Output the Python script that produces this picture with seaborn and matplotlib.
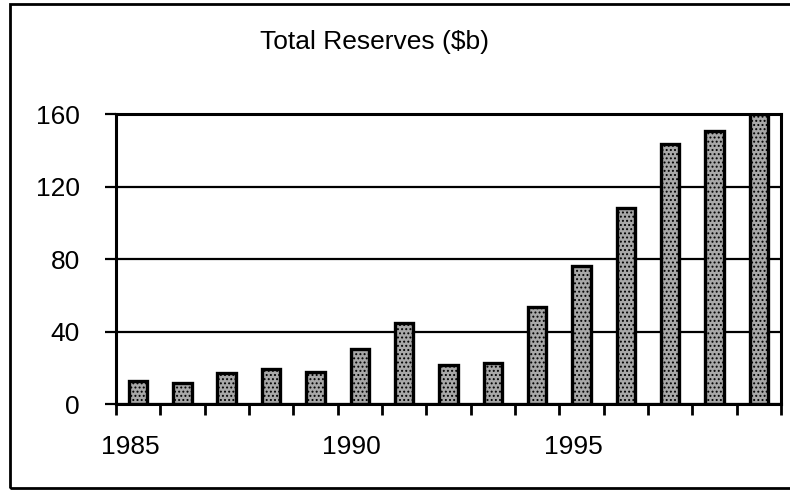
import numpy as np
import pandas as pd
import matplotlib
matplotlib.use("Agg")
import matplotlib.pyplot as plt
import matplotlib.transforms as mtransforms
from matplotlib.patches import Rectangle
import seaborn as sns

# data
years = [1985, 1986, 1987, 1988, 1989, 1990, 1991, 1992, 1993, 1994,
         1995, 1996, 1997, 1998, 1999]
reserves = [13, 12, 17, 19.5, 18, 30.5, 45, 21.5, 22.5, 53.5,
            76.5, 108, 143.5, 150.5, 160]
labelled_years = [1985, 1990, 1995]
y_ticks = [0, 40, 80, 120, 160]

sns.set_theme(style="white")
plt.rcParams['font.family'] = ['Liberation Sans', 'DejaVu Sans']
plt.rcParams['hatch.linewidth'] = 0.9

df = pd.DataFrame({"Year": years, "Reserves": reserves})

fig = plt.figure(figsize=(7.9, 4.9), dpi=100)
ax = fig.add_axes([0.1468, 0.1749, 0.9886 - 0.1468, 0.7673 - 0.1749])

sns.barplot(data=df, x="Year", y="Reserves", order=years, color="#a8a8a8",
            width=0.42, edgecolor="black", linewidth=2.4, ax=ax, zorder=3)
for p in ax.patches:
    p.set_hatch("....")

ax.set_xlim(-0.5, len(years) - 0.5)
ax.set_ylim(0, 160)
ax.set_xlabel("")
ax.set_ylabel("")

# ticks at the category boundaries, labels every 5 years
ax.set_xticks(np.arange(-0.5, len(years), 1.0))
ax.set_xticklabels([])
ax.set_xticks([years.index(y) for y in labelled_years], minor=True)
ax.set_xticklabels([str(y) for y in labelled_years], minor=True)
ax.tick_params(axis="x", which="major", direction="out", length=8,
               width=2.0, color="black", bottom=True)
ax.tick_params(axis="x", which="minor", length=0, pad=22, labelsize=19,
               labelcolor="black")
shift = mtransforms.ScaledTranslation(-8 / 100, 0, fig.dpi_scale_trans)
for lab in ax.get_xticklabels(minor=True):
    lab.set_transform(lab.get_transform() + shift)

ax.set_yticks(y_ticks)
ax.set_yticklabels([str(v) for v in y_ticks])
ax.tick_params(axis="y", direction="out", length=8, width=1.6, color="black",
               left=True, pad=18, labelsize=19, labelcolor="black")

ax.yaxis.grid(True, color="black", linewidth=1.6)
ax.set_axisbelow(True)
for side in ["left", "bottom", "right", "top"]:
    ax.spines[side].set_visible(True)
    ax.spines[side].set_color("black")
    ax.spines[side].set_linewidth(2.2)

fig.text(374 / 790, 1 - 42 / 490, "Total Reserves ($b)", ha="center",
         va="center", fontsize=19, color="black")

# outer frame of the scanned chart
fig.patches.append(Rectangle((10 / 790, 2 / 490), 1.0, 484 / 490,
                             transform=fig.transFigure, fill=False,
                             edgecolor="black", linewidth=2.0))

fig.savefig("out.png", dpi=100)
